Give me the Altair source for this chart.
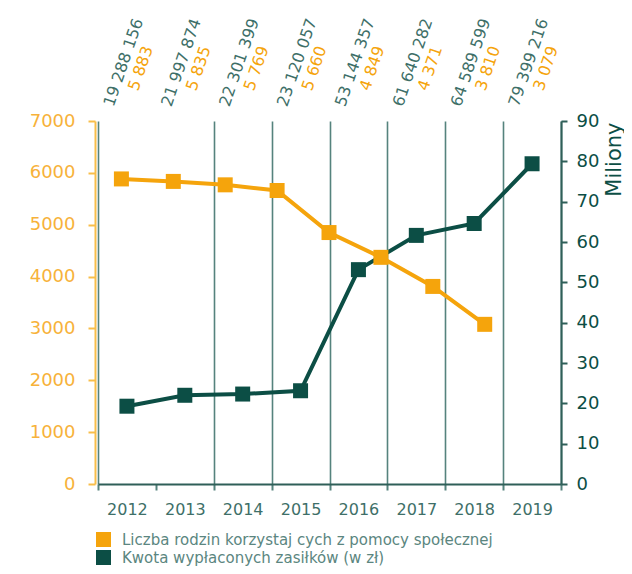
import altair as alt
import pandas as pd

# ---- data ----
years = ["2012", "2013", "2014", "2015", "2016", "2017", "2018", "2019"]
families = [5883, 5835, 5769, 5660, 4849, 4371, 3810, 3079]
amounts = [19288156, 21997874, 22301399, 23120057, 53144357, 61640282, 64589599, 79399216]
series_names = [
    "Liczba rodzin korzystaj  cych z pomocy społecznej",
    "Kwota wypłaconych zasiłków (w zł)",
]
left_ticks = [0, 1000, 2000, 3000, 4000, 5000, 6000, 7000]
right_ticks = [0, 10, 20, 30, 40, 50, 60, 70, 80, 90]

FONT = "DejaVu Sans"
ORANGE = "#F5A40C"
ORANGE_AX = "#F7B23A"
ORANGE_LINE = "#F8BE4A"
GREEN = "#0C4E45"
GREEN_AX = "#2F5F58"
GREEN_LBL = "#3E6F68"
GRID = "#55837D"
LEG_TXT = "#5B8680"


def fmt(n):
    return f"{n:,}".replace(",", " ")


df_fam = pd.DataFrame({
    "idx": list(range(len(years))),
    "year": years,
    "value": families,
    "series": series_names[0],
})
df_amt = pd.DataFrame({
    "year": years,
    "value": [a / 1e6 for a in amounts],
    "series": series_names[1],
})
df_lbl = pd.DataFrame({
    "year": years,
    "amt": [fmt(a) for a in amounts],
    "fam": [fmt(f) for f in families],
})

color = alt.Color(
    "series:N",
    scale=alt.Scale(domain=series_names, range=[ORANGE, GREEN]),
    legend=alt.Legend(
        title=None, orient="none", legendX=-2, legendY=411,
        symbolType="square", symbolSize=225, symbolStrokeWidth=0, symbolOpacity=1,
        labelFont=FONT, labelFontSize=15, labelColor=LEG_TXT, labelOffset=11,
        labelLimit=0, rowPadding=2, padding=0,
    ),
)

band = alt.Scale(type="band", domain=years, paddingInner=0, paddingOuter=0)

x_axis = alt.Axis(
    title=None, labelAngle=0, labelFont=FONT, labelFontSize=16, labelColor=GREEN_LBL,
    labelPadding=11, tickBand="extent", grid=True, gridColor=GRID, gridWidth=1.6,
    gridOpacity=alt.condition("datum.value == '2012'", alt.value(0), alt.value(1)),
    domainColor=GREEN_AX, domainWidth=2, tickColor=GRID, tickWidth=2, tickSize=6,
)
x_green = alt.X("year:O", scale=band, bandPosition=0.5, axis=x_axis)
x_text = alt.X("year:O", scale=band, bandPosition=0.5, axis=None)

right_axis = alt.Axis(
    orient="right", values=right_ticks, grid=False, format="d",
    labelFont=FONT, labelFontSize=18, labelColor=GREEN, labelPadding=9,
    domainColor=GREEN_AX, domainWidth=2, tickColor=GREEN_AX, tickWidth=2, tickSize=6,
    title="Miliony", titleFont=FONT, titleFontSize=21, titleFontWeight="normal",
    titleColor=GREEN, titleAngle=270, titleAlign="right", titleBaseline="middle",
    titleX=53, titleY=1,
)
y_green = alt.Y("value:Q", scale=alt.Scale(domain=[0, 90], nice=False), axis=right_axis)

left_axis = alt.Axis(
    orient="left", values=left_ticks, grid=False, offset=3, format="d",
    labelFont=FONT, labelFontSize=18, labelColor=ORANGE_AX, labelPadding=13,
    domainColor=ORANGE_LINE, domainWidth=2, tickColor=ORANGE_LINE, tickWidth=2, tickSize=7,
    title=None,
)
y_orange = alt.Y("value:Q", scale=alt.Scale(domain=[0, 7000], nice=False), axis=left_axis)
x_orange = alt.X("idx:Q", scale=alt.Scale(domain=[-0.451, 8.47], nice=False, zero=False), axis=None)

green_line = alt.Chart(df_amt).mark_line(color=GREEN, strokeWidth=4).encode(x=x_green, y=y_green)
green_pts = alt.Chart(df_amt).mark_point(shape="square", filled=True, size=225, opacity=1).encode(
    x=x_green, y=y_green, color=color)
green = alt.layer(green_line, green_pts)

orange_line = alt.Chart(df_fam).mark_line(color=ORANGE, strokeWidth=4).encode(x=x_orange, y=y_orange)
orange_pts = alt.Chart(df_fam).mark_point(shape="square", filled=True, size=225, opacity=1).encode(
    x=x_orange, y=y_orange, color=color)
orange = alt.layer(orange_line, orange_pts)

txt_g = alt.Chart(df_lbl).mark_text(
    angle=289, align="center", baseline="middle", font=FONT, fontSize=16,
    color=GREEN_LBL, dx=2.2, dy=-4.3,
).encode(x=x_text, y=alt.value(-55), text="amt:N")
txt_o = alt.Chart(df_lbl).mark_text(
    angle=289, align="center", baseline="middle", font=FONT, fontSize=16,
    color=ORANGE, dx=2.2, dy=13.9,
).encode(x=x_text, y=alt.value(-55), text="fam:N")
texts = alt.layer(txt_g, txt_o)

chart = alt.layer(green, orange, texts).resolve_scale(
    x="independent", y="independent"
).properties(
    width=463, height=363,
    padding={"left": 90, "top": 113, "right": 63, "bottom": 82},
    autosize=alt.AutoSizeParams(type="none"),
).configure_view(stroke=None)

chart.save("out.html", embed_options={"renderer": "svg", "actions": False})
